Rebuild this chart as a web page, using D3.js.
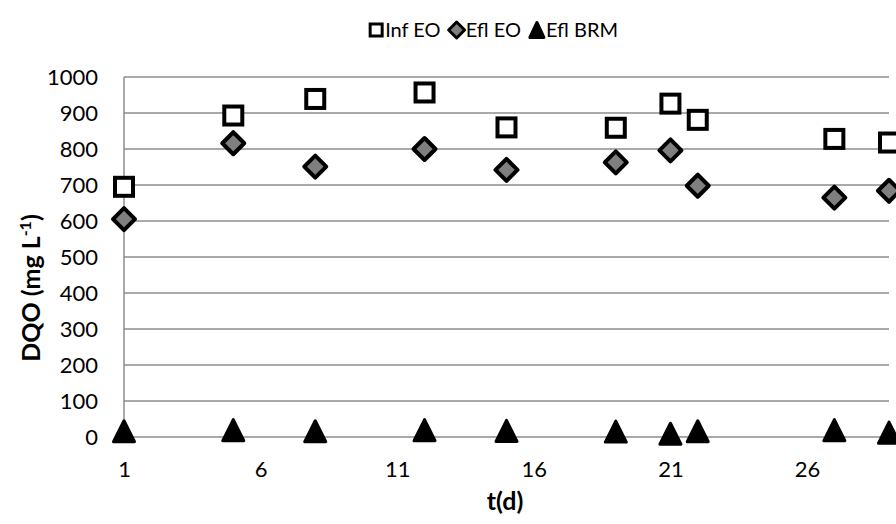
<!DOCTYPE html>
<html>
<head>
<meta charset="utf-8">
<title>DQO</title>
<script src="https://d3js.org/d3.v7.min.js"></script>
<style>
  body { margin: 0; background: #fff; }
  text { font-family: Lato, "Open Sans", sans-serif; fill: #000; }
</style>
</head>
<body>
<div id="chart"></div>
<script>
// data
const days = [1, 5, 8, 12, 15, 19, 21, 22, 27, 29];
const infEO = [695, 893, 939, 957, 860, 859, 926, 881, 828, 818];
const eflEO = [605, 816, 751, 800, 742, 763, 796, 698, 665, 684];
const eflBRM = [16, 19, 16, 19, 17, 15, 9, 16, 19, 12];
const xTicks = [1, 6, 11, 16, 21, 26];
const yTicks = d3.range(0, 1001, 100);
const seriesNames = ["Inf EO", "Efl EO", "Efl BRM"];

const width = 896, height = 524;
const margin = { left: 124, right: 7, top: 77, bottom: 87 };

const svg = d3.select("#chart").append("svg")
  .attr("width", width).attr("height", height);

const x = d3.scaleLinear().domain([1, 29]).range([margin.left, width - margin.right]);
const y = d3.scaleLinear().domain([0, 1000]).range([height - margin.bottom, margin.top]);

// gridlines
svg.append("g")
  .selectAll("line").data(yTicks).join("line")
  .attr("x1", margin.left).attr("x2", width - margin.right)
  .attr("y1", d => y(d)).attr("y2", d => y(d))
  .attr("stroke", "#8c8c8c").attr("stroke-width", 1.5);

// y axis line
svg.append("line")
  .attr("x1", margin.left).attr("x2", margin.left)
  .attr("y1", y(1000)).attr("y2", y(0))
  .attr("stroke", "#8c8c8c").attr("stroke-width", 1.5);

// axis labels through d3 axes, no domain / ticks
const yAxis = svg.append("g")
  .attr("transform", `translate(${margin.left},0)`)
  .call(d3.axisLeft(y).tickValues(yTicks).tickFormat(d3.format("d")).tickSize(0).tickPadding(26));
yAxis.select(".domain").remove();
yAxis.selectAll("text").style("font-size", "22px").attr("font-family", null);

const xAxis = svg.append("g")
  .attr("transform", `translate(0,${y(0)})`)
  .call(d3.axisBottom(x).tickValues(xTicks).tickFormat(d3.format("d")).tickSize(0).tickPadding(24));
xAxis.select(".domain").remove();
xAxis.selectAll("text").style("font-size", "22px").attr("font-family", null);

// axis titles
svg.append("text")
  .attr("x", 505).attr("y", 510)
  .attr("text-anchor", "middle")
  .style("font-size", "25px").style("font-weight", "bold")
  .text("t(d)");

const yt = svg.append("text")
  .attr("transform", "translate(40,288) rotate(-90)")
  .attr("text-anchor", "middle")
  .style("font-size", "25px").style("font-weight", "bold");
yt.append("tspan").text("DQO (mg L");
yt.append("tspan").attr("dy", -9).style("font-size", "16px").text("-1");
yt.append("tspan").attr("dy", 9).text(")");

// marker shapes
function square(g, s, sw) {
  g.append("rect").attr("x", -s / 2).attr("y", -s / 2).attr("width", s).attr("height", s)
    .attr("fill", "#fff").attr("stroke", "#000").attr("stroke-width", sw);
}
function diamond(g, r, sw) {
  g.append("path").attr("d", `M0,${-r}L${r},0L0,${r}L${-r},0Z`)
    .attr("fill", "#7f7f7f").attr("stroke", "#000").attr("stroke-width", sw)
    .attr("stroke-linejoin", "round");
}
function triangle(g, w, h) {
  g.append("path").attr("d", `M0,${-h / 2}L${w / 2},${h / 2}L${-w / 2},${h / 2}Z`)
    .attr("fill", "#000").attr("stroke", "#000").attr("stroke-width", 3)
    .attr("stroke-linejoin", "round");
}

const pts = svg.append("g");
days.forEach((d, i) => {
  triangle(pts.append("g").attr("transform", `translate(${x(d)},${y(eflBRM[i])})`), 21, 21);
});
days.forEach((d, i) => {
  diamond(pts.append("g").attr("transform", `translate(${x(d)},${y(eflEO[i])})`), 11, 4);
});
days.forEach((d, i) => {
  square(pts.append("g").attr("transform", `translate(${x(d)},${y(infEO[i])})`), 18, 4);
});

// legend
const legend = svg.append("g");
let lx = 0;
const gap = 8;
const markers = [
  g => square(g, 12, 3),
  g => diamond(g, 8, 3),
  g => triangle(g, 14, 15)
];
seriesNames.forEach((name, i) => {
  const item = legend.append("g").attr("transform", `translate(${lx},0)`);
  markers[i](item.append("g").attr("transform", "translate(8,0)"));
  const t = item.append("text").attr("x", 17).attr("dy", "0.35em")
    .style("font-size", "20px").text(name);
  lx += 17 + t.node().getComputedTextLength() + gap;
});
legend.attr("transform", `translate(${618 - (lx - gap)},30)`);
</script>
</body>
</html>
